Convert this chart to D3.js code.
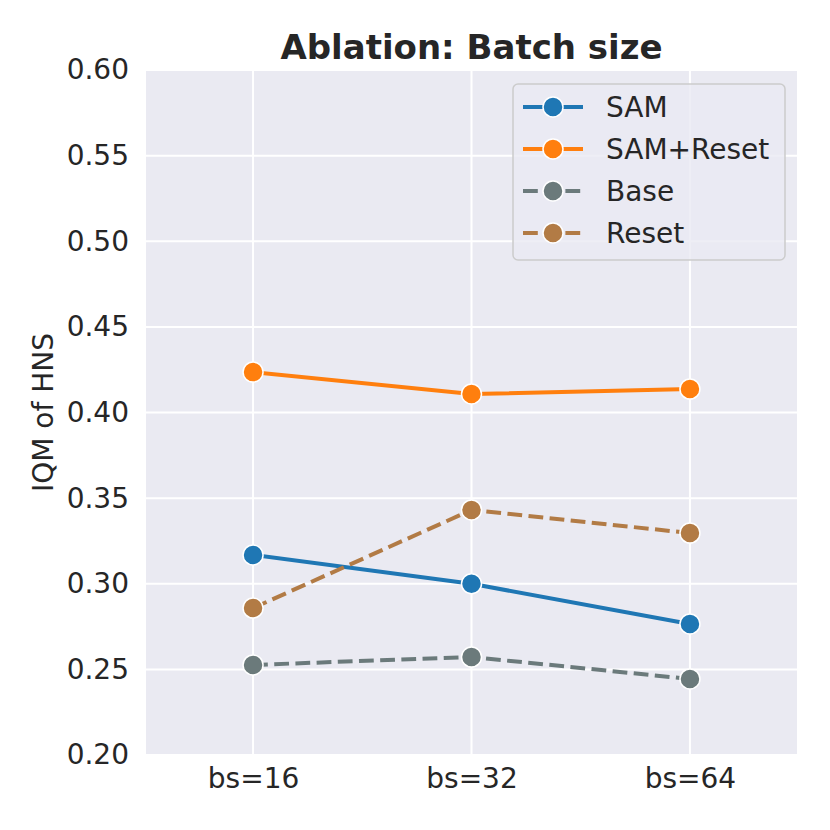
<!DOCTYPE html>
<html>
<head>
<meta charset="utf-8">
<script src="https://cdn.jsdelivr.net/npm/d3@7"></script>
<style>
  body { margin: 0; background: #fff; }
  text { font-family: "DejaVu Sans", sans-serif; fill: #262626; }
</style>
</head>
<body>
<div id="chart"></div>
<script>
// data
var categories = ["bs=16", "bs=32", "bs=64"];
var seriesNames = ["SAM", "SAM+Reset", "Base", "Reset"];
var samValues = [0.3168, 0.3000, 0.2765];
var samResetValues = [0.4236, 0.4108, 0.4137];
var baseValues = [0.2526, 0.2572, 0.2444];
var resetValues = [0.2858, 0.3431, 0.3296];
var yTicks = [0.20, 0.25, 0.30, 0.35, 0.40, 0.45, 0.50, 0.55, 0.60];

var series = [
  { name: seriesNames[0], values: samValues, color: "#1f77b4", dashed: false },
  { name: seriesNames[1], values: samResetValues, color: "#ff7f0e", dashed: false },
  { name: seriesNames[2], values: baseValues, color: "#6b7a7b", dashed: true },
  { name: seriesNames[3], values: resetValues, color: "#b27b45", dashed: true }
];

var width = 830, height = 830;
var margin = { top: 70, right: 33, bottom: 75, left: 146 };
var innerW = width - margin.left - margin.right,
    innerH = height - margin.top - margin.bottom;

var svg = d3.select("#chart").append("svg")
  .attr("width", width)
  .attr("height", height);

var g = svg.append("g")
  .attr("transform", "translate(" + margin.left + "," + margin.top + ")");

var x = d3.scalePoint().domain(categories).range([0, innerW]).padding(0.49);
var y = d3.scaleLinear().domain([0.20, 0.60]).range([innerH, 0]);

// background
g.append("rect")
  .attr("width", innerW)
  .attr("height", innerH)
  .attr("fill", "#eaeaf2");

// grid
g.selectAll(".hgrid").data(yTicks).enter().append("line")
  .attr("x1", 0).attr("x2", innerW)
  .attr("y1", function(d) { return y(d); })
  .attr("y2", function(d) { return y(d); })
  .attr("stroke", "#fff").attr("stroke-width", 2);

g.selectAll(".vgrid").data(categories).enter().append("line")
  .attr("y1", 0).attr("y2", innerH)
  .attr("x1", function(d) { return x(d); })
  .attr("x2", function(d) { return x(d); })
  .attr("stroke", "#fff").attr("stroke-width", 2);

// axes
var yAxis = g.append("g")
  .call(d3.axisLeft(y).tickValues(yTicks).tickFormat(d3.format(".2f")).tickSize(0).tickPadding(17));
var xAxis = g.append("g")
  .attr("transform", "translate(0," + innerH + ")")
  .call(d3.axisBottom(x).tickSize(0).tickPadding(13));
[xAxis, yAxis].forEach(function(a) {
  a.select(".domain").remove();
  a.selectAll("text")
    .style("font-family", "DejaVu Sans, sans-serif")
    .style("font-size", "28px")
    .attr("fill", "#262626");
});

// lines
var line = d3.line()
  .x(function(d, i) { return x(categories[i]); })
  .y(function(d) { return y(d); });

series.forEach(function(s) {
  g.append("path")
    .datum(s.values)
    .attr("d", line)
    .attr("fill", "none")
    .attr("stroke", s.color)
    .attr("stroke-width", 4)
    .attr("stroke-dasharray", s.dashed ? "14.8,6.4" : null);
});

series.forEach(function(s) {
  g.selectAll(null).data(s.values).enter().append("circle")
    .attr("cx", function(d, i) { return x(categories[i]); })
    .attr("cy", function(d) { return y(d); })
    .attr("r", 10)
    .attr("fill", s.color)
    .attr("stroke", "#fff")
    .attr("stroke-width", 1.5);
});

// legend
var legend = g.append("g")
  .attr("transform", "translate(" + (513 - margin.left) + "," + (84 - margin.top) + ")");
legend.append("rect")
  .attr("width", 272).attr("height", 176)
  .attr("rx", 5)
  .attr("fill", "#eaeaf2").attr("fill-opacity", 0.8)
  .attr("stroke", "#cccccc").attr("stroke-width", 1.5);

series.forEach(function(s, i) {
  var row = legend.append("g").attr("transform", "translate(0," + (23 + i * 42) + ")");
  row.append("line")
    .attr("x1", 10).attr("x2", 70)
    .attr("stroke", s.color).attr("stroke-width", 4)
    .attr("stroke-dasharray", s.dashed ? "14.8,6.4" : null);
  row.append("circle")
    .attr("cx", 40).attr("r", 10)
    .attr("fill", s.color).attr("stroke", "#fff").attr("stroke-width", 1.5);
  row.append("text")
    .attr("x", 93).attr("y", 0).attr("dy", "0.35em")
    .style("font-size", "28px")
    .text(s.name);
});

// labels
svg.append("text")
  .attr("x", margin.left + innerW / 2)
  .attr("y", 59)
  .attr("text-anchor", "middle")
  .style("font-size", "34px")
  .style("font-weight", "bold")
  .text("Ablation: Batch size");

svg.append("text")
  .attr("transform", "translate(53," + (margin.top + innerH / 2) + ") rotate(-90)")
  .attr("text-anchor", "middle")
  .style("font-size", "28px")
  .text("IQM of HNS");
</script>
</body>
</html>
